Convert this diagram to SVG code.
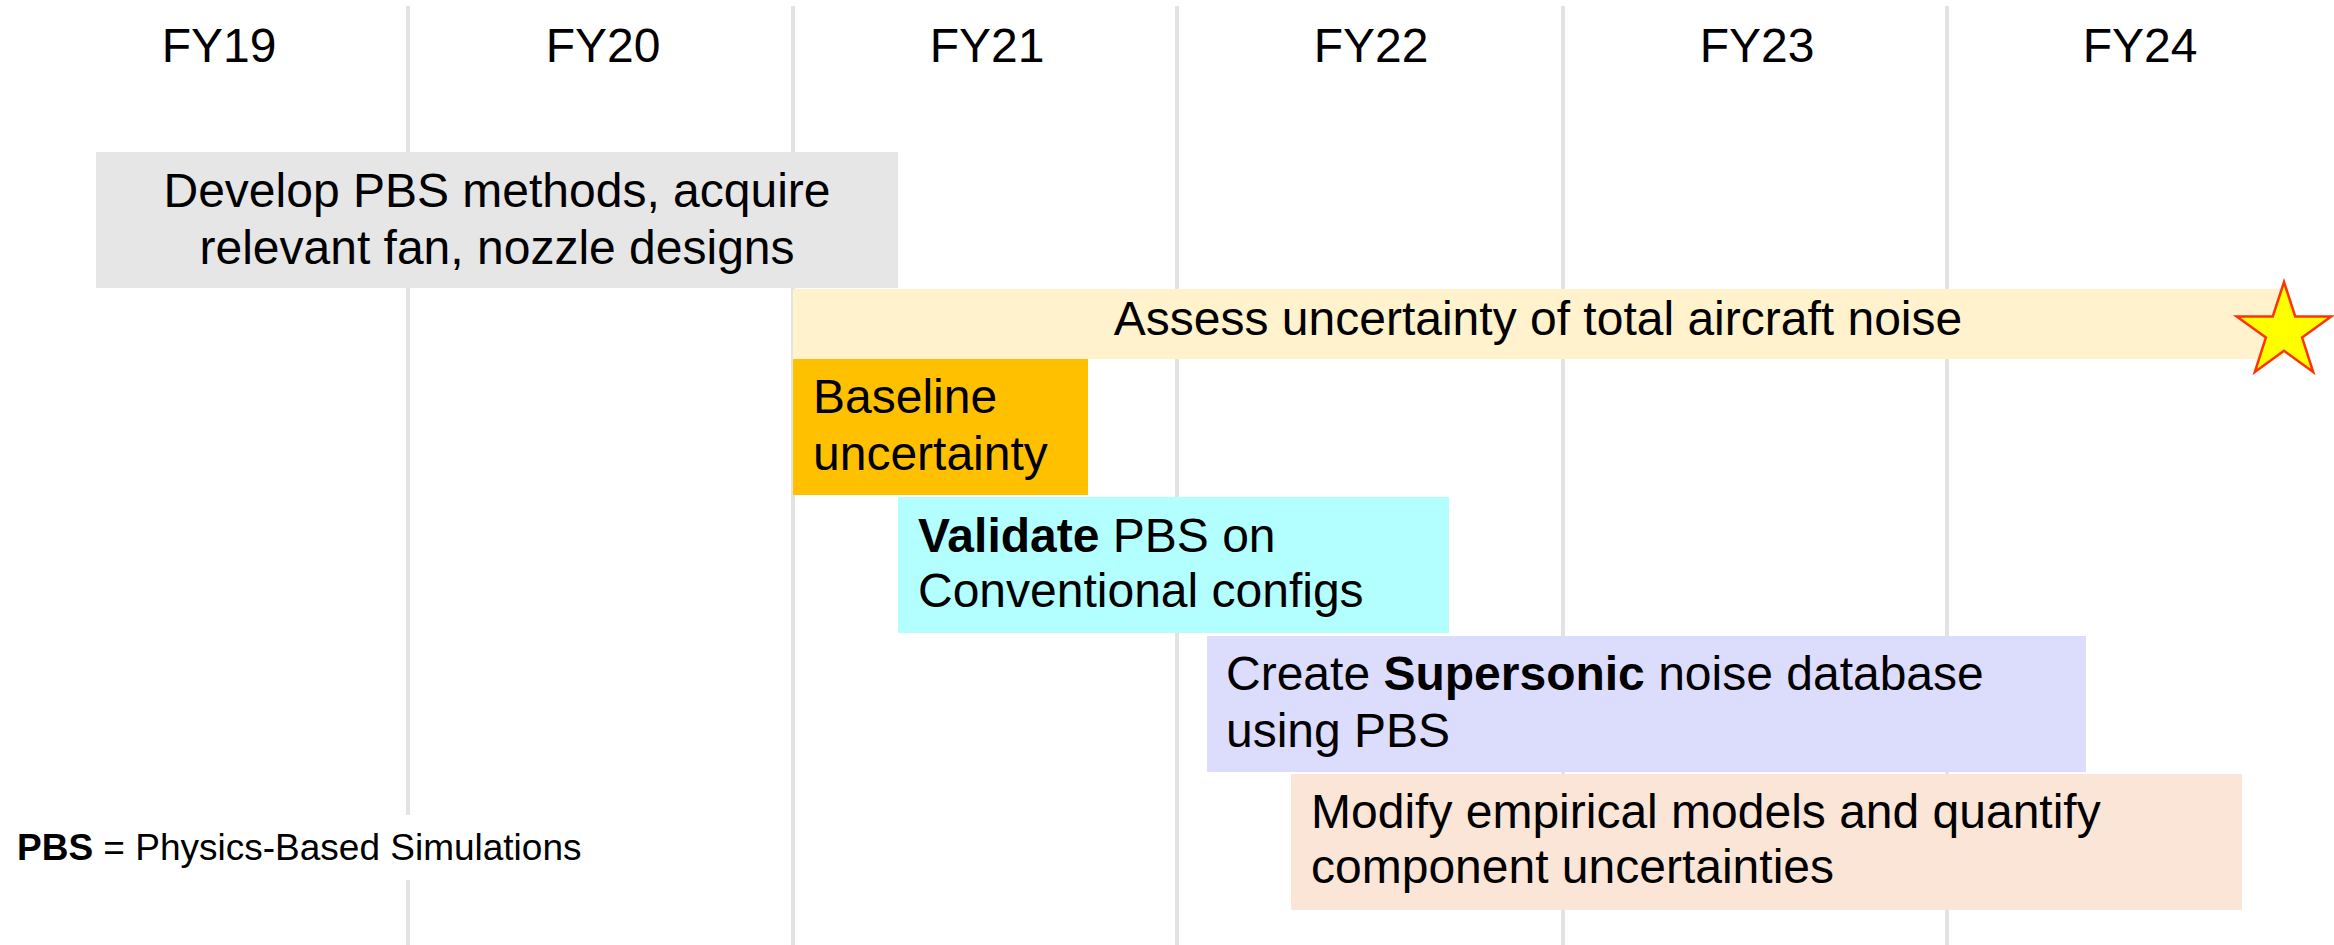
<svg xmlns="http://www.w3.org/2000/svg" width="2334" height="945" viewBox="0 0 2334 945">
<style>
.grid{stroke:#e3e3e3;stroke-width:4;fill:none}
.t{font-family:"Liberation Sans",Arial,sans-serif;font-size:48px;fill:#000}
.yr{text-anchor:middle}
.b{font-weight:bold}
.leg{font-family:"Liberation Sans",Arial,sans-serif;font-size:37px;fill:#000}
</style>
<rect width="2334" height="945" fill="#fff"/>
<g id="grid">
<line class="grid" x1="408" y1="6" x2="408" y2="945"/>
<line class="grid" x1="793" y1="6" x2="793" y2="945"/>
<line class="grid" x1="1177" y1="6" x2="1177" y2="945"/>
<line class="grid" x1="1563" y1="6" x2="1563" y2="945"/>
<line class="grid" x1="1947" y1="6" x2="1947" y2="945"/>
</g>
<g id="years">
<text class="t yr" x="219" y="62">FY19</text>
<text class="t yr" x="603" y="62">FY20</text>
<text class="t yr" x="987" y="62">FY21</text>
<text class="t yr" x="1371" y="62">FY22</text>
<text class="t yr" x="1757" y="62">FY23</text>
<text class="t yr" x="2140" y="62">FY24</text>
</g>
<g id="develop">
<rect x="96" y="152" width="802" height="136" fill="#e6e6e6"/>
<text class="t yr" x="497" y="207">Develop PBS methods, acquire</text>
<text class="t yr" x="497" y="264">relevant fan, nozzle designs</text>
</g>
<g id="assess">
<rect x="793" y="289" width="1490" height="70" fill="#fff2cc"/>
<text class="t yr" x="1538" y="335">Assess uncertainty of total aircraft noise</text>
</g>
<g id="star">
<polygon points="2284,282 2295.2,316.4 2331.3,316.4 2302.1,337.6 2313.2,372 2284,350.8 2254.8,372 2265.9,337.6 2236.7,316.4 2272.8,316.4" fill="#ffff00" stroke="#ff3300" stroke-width="2.5" stroke-linejoin="miter"/>
</g>
<g id="baseline">
<rect x="793" y="359" width="295" height="136" fill="#ffc000"/>
<text class="t" x="813" y="413">Baseline</text>
<text class="t" x="813" y="470">uncertainty</text>
</g>
<g id="validate">
<rect x="898" y="497" width="551" height="136" fill="#b3ffff"/>
<text class="t" x="918" y="552"><tspan class="b">Validate</tspan> PBS on</text>
<text class="t" x="918" y="607">Conventional configs</text>
</g>
<g id="supersonic">
<rect x="1207" y="636" width="879" height="136" fill="#dcdcfc"/>
<text class="t" x="1226" y="690">Create <tspan class="b">Supersonic</tspan> noise database</text>
<text class="t" x="1226" y="747">using PBS</text>
</g>
<g id="modify">
<rect x="1291" y="774" width="951" height="136" fill="#fbe5d6"/>
<text class="t" x="1311" y="828">Modify empirical models and quantify</text>
<text class="t" x="1311" y="883">component uncertainties</text>
</g>
<g id="legend">
<rect x="10" y="815" width="580" height="65" fill="#fff"/>
<text class="leg" x="17" y="860"><tspan class="b">PBS</tspan> = Physics-Based Simulations</text>
</g>
</svg>
